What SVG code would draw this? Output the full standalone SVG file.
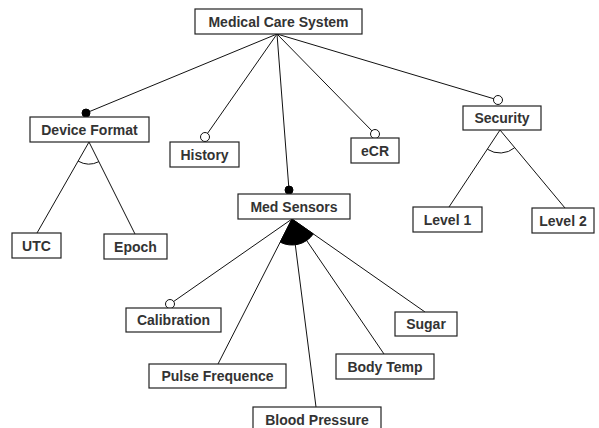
<svg xmlns="http://www.w3.org/2000/svg" width="599" height="428" viewBox="0 0 599 428">
<style>
.box{fill:#fff;stroke:#222;stroke-width:1.2}
.lbl{font-family:"Liberation Sans",Arial,sans-serif;font-weight:bold;font-size:14px;fill:#333;text-anchor:middle}
.ln{stroke:#111;stroke-width:1;fill:none}
.opt{fill:#fff;stroke:#111;stroke-width:1}
.man{fill:#000;stroke:#000;stroke-width:1}
</style>
<rect width="599" height="428" fill="#fff"/>
<g id="connectors">
<line class="ln" x1="277" y1="34" x2="86" y2="113"/>
<line class="ln" x1="277" y1="34" x2="205" y2="137"/>
<line class="ln" x1="277" y1="34" x2="289" y2="190"/>
<line class="ln" x1="277" y1="34" x2="375" y2="134"/>
<line class="ln" x1="277" y1="34" x2="498" y2="100"/>
<line class="ln" x1="89" y1="142" x2="37" y2="233"/>
<line class="ln" x1="89" y1="142" x2="135" y2="234"/>
<path class="ln" d="M78.1,161.1 A22,22 0 0 0 98.8,161.7"/>
<line class="ln" x1="500" y1="130" x2="449" y2="207"/>
<line class="ln" x1="500" y1="130" x2="565" y2="208"/>
<path class="ln" d="M487.3,149.2 A23,23 0 0 0 514.7,147.7"/>
<line class="ln" x1="292" y1="219" x2="170" y2="304"/>
<line class="ln" x1="292" y1="219" x2="218" y2="364"/>
<line class="ln" x1="292" y1="219" x2="316" y2="407"/>
<line class="ln" x1="292" y1="219" x2="384" y2="354"/>
<line class="ln" x1="292" y1="219" x2="425" y2="312"/>
<path class="man" d="M292,219 L313.3,233.9 A26,26 0 0 1 280.2,242.2 Z"/>
<circle class="man" cx="86" cy="113" r="4"/>
<circle class="opt" cx="205" cy="137" r="4.5"/>
<circle class="man" cx="289" cy="190" r="4"/>
<circle class="opt" cx="375" cy="134" r="4.5"/>
<circle class="opt" cx="498" cy="100" r="4.5"/>
<circle class="opt" cx="170" cy="304" r="4.5"/>
</g>
<g id="n-root"><rect class="box" x="195" y="9" width="167" height="25"/><text class="lbl" x="278.5" y="26.5">Medical Care System</text></g>
<g id="n-device"><rect class="box" x="30" y="117" width="119" height="25"/><text class="lbl" x="89.5" y="134.5">Device Format</text></g>
<g id="n-history"><rect class="box" x="170" y="142" width="69" height="25"/><text class="lbl" x="204.5" y="160">History</text></g>
<g id="n-ecr"><rect class="box" x="351" y="138" width="48" height="25"/><text class="lbl" x="375" y="155.5">eCR</text></g>
<g id="n-security"><rect class="box" x="463" y="106" width="78" height="24"/><text class="lbl" x="502" y="123">Security</text></g>
<g id="n-medsensors"><rect class="box" x="238" y="194" width="112" height="25"/><text class="lbl" x="294" y="211.5">Med Sensors</text></g>
<g id="n-utc"><rect class="box" x="12" y="233" width="49" height="25"/><text class="lbl" x="36.5" y="250.5">UTC</text></g>
<g id="n-epoch"><rect class="box" x="104" y="234" width="63" height="25"/><text class="lbl" x="135.5" y="251.5">Epoch</text></g>
<g id="n-level1"><rect class="box" x="413" y="207" width="69" height="25"/><text class="lbl" x="447.5" y="224.5">Level 1</text></g>
<g id="n-level2"><rect class="box" x="532" y="208" width="62" height="25"/><text class="lbl" x="563" y="225.5">Level 2</text></g>
<g id="n-calibration"><rect class="box" x="126" y="308" width="95" height="24"/><text class="lbl" x="173.5" y="325">Calibration</text></g>
<g id="n-pulse"><rect class="box" x="149" y="364" width="137" height="24"/><text class="lbl" x="217.5" y="381">Pulse Frequence</text></g>
<g id="n-blood"><rect class="box" x="253" y="407" width="128" height="26"/><text class="lbl" x="317" y="424.5">Blood Pressure</text></g>
<g id="n-bodytemp"><rect class="box" x="336" y="354" width="98" height="25"/><text class="lbl" x="385" y="371.5">Body Temp</text></g>
<g id="n-sugar"><rect class="box" x="395" y="312" width="62" height="24"/><text class="lbl" x="426" y="329">Sugar</text></g>
</svg>
